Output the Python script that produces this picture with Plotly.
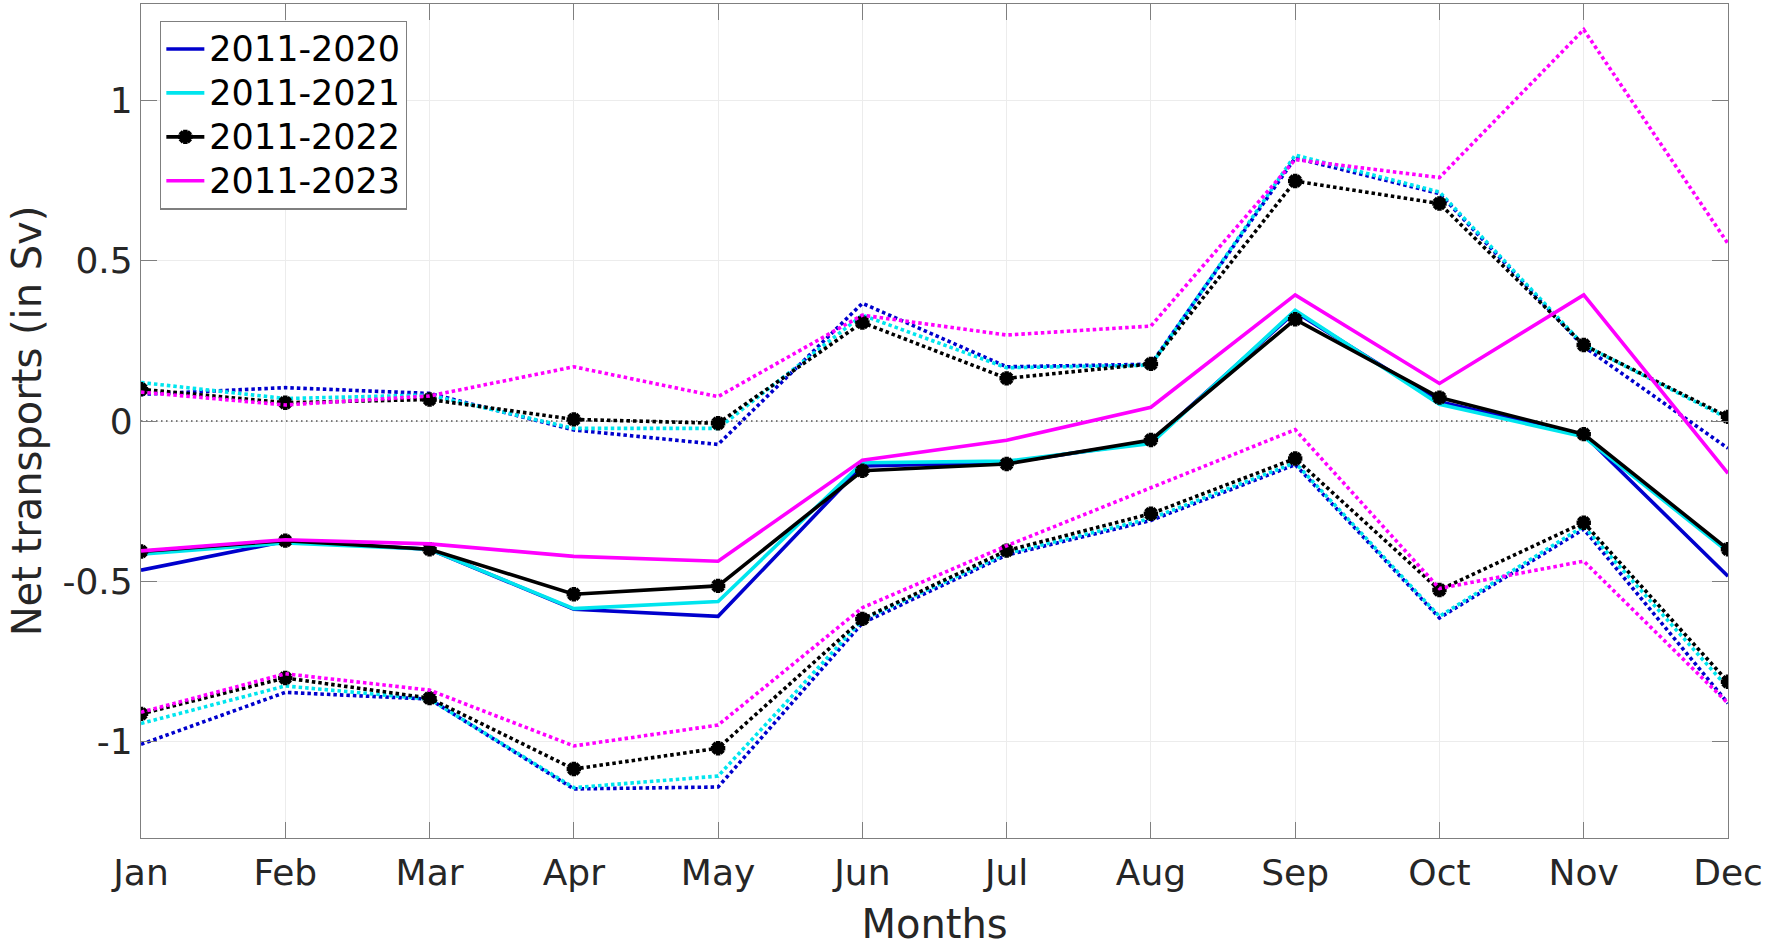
import plotly.graph_objects as go

months = ["Jan", "Feb", "Mar", "Apr", "May", "Jun", "Jul", "Aug", "Sep", "Oct", "Nov", "Dec"]
periods = ["2011-2020", "2011-2021", "2011-2022", "2011-2023"]

# mean (solid) lines
mean_2020 = [-0.465, -0.375, -0.400, -0.587, -0.609, -0.140, -0.130, -0.065, 0.340, 0.060, -0.043, -0.484]
mean_2021 = [-0.415, -0.380, -0.400, -0.585, -0.563, -0.130, -0.125, -0.070, 0.345, 0.052, -0.049, -0.408]
mean_2022 = [-0.407, -0.373, -0.400, -0.540, -0.514, -0.155, -0.134, -0.059, 0.317, 0.073, -0.041, -0.400]
mean_2023 = [-0.405, -0.370, -0.383, -0.422, -0.437, -0.122, -0.060, 0.043, 0.393, 0.117, 0.393, -0.163]

# upper (dotted) bounds
upper_2020 = [0.083, 0.104, 0.086, -0.028, -0.073, 0.367, 0.169, 0.177, 0.820, 0.709, 0.232, -0.085]
upper_2021 = [0.120, 0.070, 0.081, -0.023, -0.023, 0.330, 0.166, 0.174, 0.829, 0.714, 0.237, 0.008]
upper_2022 = [0.099, 0.057, 0.067, 0.005, -0.007, 0.307, 0.133, 0.178, 0.748, 0.678, 0.237, 0.013]
upper_2023 = [0.090, 0.050, 0.078, 0.169, 0.076, 0.330, 0.268, 0.296, 0.815, 0.759, 1.220, 0.553]

# lower (dotted) bounds
lower_2020 = [-1.008, -0.846, -0.867, -1.147, -1.141, -0.630, -0.418, -0.310, -0.136, -0.614, -0.337, -0.880]
lower_2021 = [-0.943, -0.826, -0.867, -1.143, -1.107, -0.620, -0.413, -0.304, -0.130, -0.609, -0.328, -0.832]
lower_2022 = [-0.913, -0.801, -0.864, -1.085, -1.020, -0.617, -0.404, -0.289, -0.117, -0.527, -0.317, -0.813]
lower_2023 = [-0.908, -0.788, -0.839, -1.013, -0.948, -0.582, -0.389, -0.209, -0.027, -0.522, -0.437, -0.880]

y_ticks = [-1, -0.5, 0, 0.5, 1]
y_tick_text = ["-1", "-0.5", "0", "0.5", "1"]

means = [mean_2020, mean_2021, mean_2022, mean_2023]
uppers = [upper_2020, upper_2021, upper_2022, upper_2023]
lowers = [lower_2020, lower_2021, lower_2022, lower_2023]
colors = ["#0000CD", "#00E5EE", "#000000", "#FF00FF"]
x = list(range(1, 13))

fig = go.Figure()

# zero reference line
fig.add_trace(go.Scatter(x=[1, 12], y=[0, 0], mode="lines",
                         line=dict(color="black", width=1.2, dash="1.5px,3.5px"),
                         showlegend=False, hoverinfo="skip"))


def marker_for(i):
    if i == 2:
        return dict(symbol="asterisk-open", size=12, color="black",
                    line=dict(color="black", width=4.5))
    return None


for i in range(4):
    mode = "lines+markers" if i == 2 else "lines"
    for yy in (uppers[i], lowers[i]):
        fig.add_trace(go.Scatter(x=x, y=yy, mode=mode, marker=marker_for(i),
                                 line=dict(color=colors[i], width=3.6, dash="3.5px,3px"),
                                 showlegend=False))
for i in range(4):
    mode = "lines+markers" if i == 2 else "lines"
    fig.add_trace(go.Scatter(x=x, y=means[i], mode=mode, marker=marker_for(i),
                             name='<span style="font-size:35px">' + periods[i] + '</span>',
                             line=dict(color=colors[i], width=3.6)))

axis_common = dict(showline=True, linecolor="#7f7f7f", linewidth=1.3, mirror="ticks",
                   ticks="inside", ticklen=16, tickcolor="#7f7f7f", tickwidth=1.3,
                   showgrid=True, gridcolor="#ececec", gridwidth=1, zeroline=False,
                   tickfont=dict(family="DejaVu Sans", size=36, color="#262626"))

fig.update_xaxes(range=[1, 12], tickmode="array", tickvals=x, ticktext=months,
                 ticklabelstandoff=3,
                 title=dict(text="Months", font=dict(family="DejaVu Sans", size=40, color="#262626"),
                            standoff=18),
                 **axis_common)
fig.update_yaxes(range=[-1.3, 1.3], tickmode="array", tickvals=y_ticks, ticktext=y_tick_text,
                 title=dict(text="Net transports (in Sv)",
                            font=dict(family="DejaVu Sans", size=40, color="#262626"), standoff=8),
                 **axis_common)

fig.update_layout(
    width=1772, height=947,
    margin=dict(l=141, r=44, t=4, b=109),
    paper_bgcolor="white", plot_bgcolor="white",
    font=dict(family="DejaVu Sans", color="#262626"),
    legend=dict(x=0.012, y=0.98, xanchor="left", yanchor="top",
                bgcolor="white", bordercolor="#7f7f7f", borderwidth=1.3,
                font=dict(family="DejaVu Sans", size=31.5, color="black"),
                tracegroupgap=0, itemwidth=38),
    showlegend=True,
)

fig.write_html("out.html", config={"displayModeBar": False},
               post_script="document.body.style.margin='0';document.body.style.overflow='hidden';")
